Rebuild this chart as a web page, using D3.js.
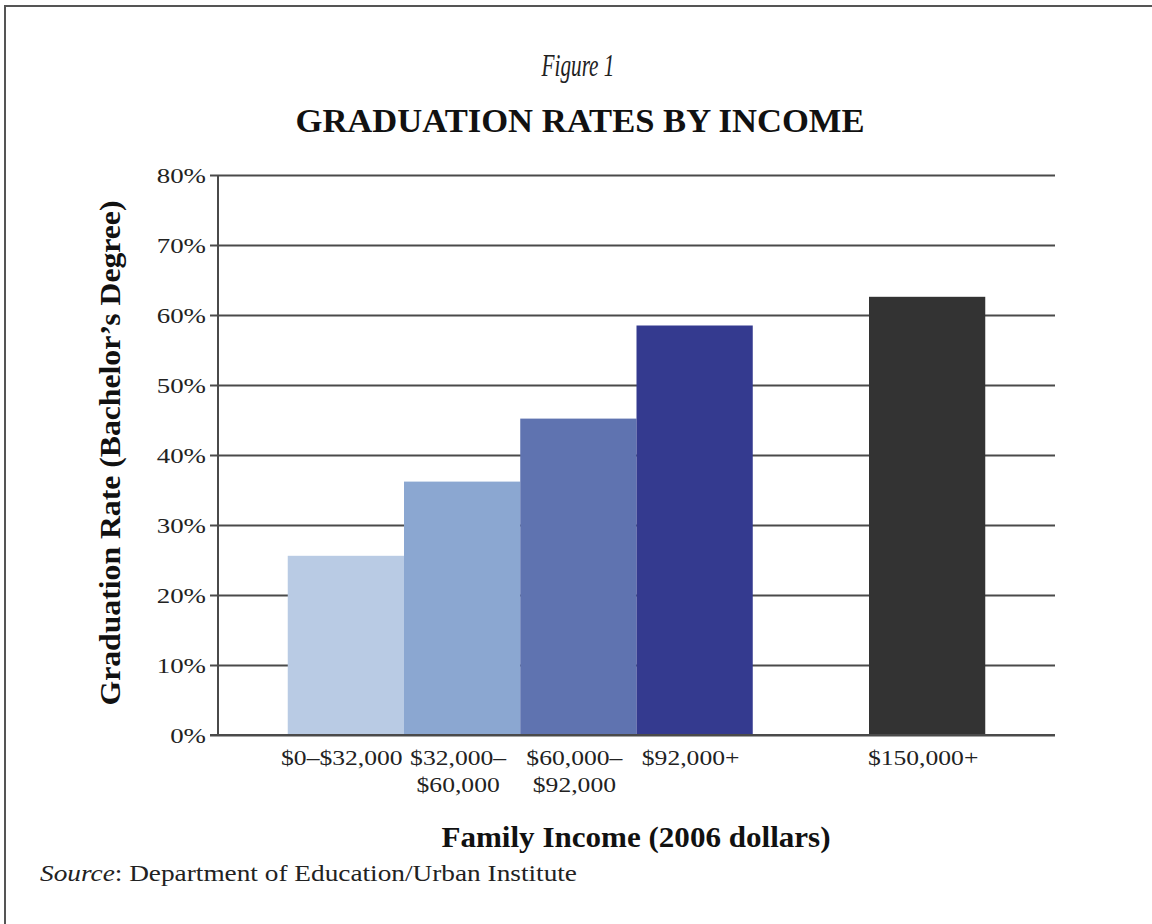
<!DOCTYPE html>
<html>
<head>
<meta charset="utf-8">
<script src="https://cdn.jsdelivr.net/npm/d3@7"></script>
<style>
  html, body { margin: 0; padding: 0; background: #fff; }
  svg { display: block; font-family: "Liberation Serif", "Times New Roman", serif; }
</style>
</head>
<body>
<div id="chart"></div>
<script>
// data
const categories = ['$0–$32,000', '$32,000–\n$60,000', '$60,000–\n$92,000', '$92,000+', 'gap', '$150,000+'];
const values = [0.256, 0.362, 0.452, 0.585, null, 0.626];
const colors = ['#b9cbe4', '#8ba7d1', '#5f73b0', '#343a8f', 'none', '#333333'];
const yTicks = [0, 0.1, 0.2, 0.3, 0.4, 0.5, 0.6, 0.7, 0.8];

const width = 1152;
const height = 924;
const stretch = 1.28; // the source picture is widened, so glyphs are too
const serif = '"Liberation Serif", "Times New Roman", serif';

const svg = d3.select('#chart').append('svg').attr('width', width).attr('height', height);

// frame
svg.append('path')
  .attr('d', 'M5,' + height + ' V6 H' + width)
  .attr('fill', 'none')
  .attr('stroke', '#555')
  .attr('stroke-width', 2);

const x = d3.scaleBand().domain(categories).range([218, 1055]).paddingInner(0).paddingOuter(0.6);
const y = d3.scaleLinear().domain([0, 0.8]).range([735, 175]);

// gridlines + y axis
const yAxis = svg.append('g')
  .attr('transform', 'translate(218,0)')
  .call(d3.axisLeft(y).tickValues(yTicks).tickSize(8).tickFormat(d3.format('.0%')));
yAxis.attr('font-family', serif);
yAxis.select('.domain').remove();
yAxis.selectAll('.tick line').attr('stroke', '#4a4a4a').attr('stroke-width', 2).attr('x2', 1055 - 218).attr('x1', -8);
yAxis.selectAll('.tick text')
  .attr('x', null)
  .attr('dy', '0.34em')
  .attr('transform', 'translate(-12,0) scale(' + stretch + ',1)')
  .style('font-size', '21px')
  .style('fill', '#222');

// bars
svg.selectAll('rect.bar')
  .data(categories.map((c, i) => ({ c: c, v: values[i], color: colors[i] })).filter(d => d.v !== null))
  .join('rect')
  .attr('class', 'bar')
  .attr('x', d => x(d.c))
  .attr('width', x.bandwidth())
  .attr('y', d => y(d.v))
  .attr('height', d => y(0) - y(d.v))
  .attr('fill', d => d.color);

// y axis line and baseline on top of bars
svg.append('line').attr('x1', 218).attr('x2', 218).attr('y1', y(0.8)).attr('y2', y(0))
  .attr('stroke', '#4a4a4a').attr('stroke-width', 2);
svg.append('line').attr('x1', 210).attr('x2', 1055).attr('y1', y(0)).attr('y2', y(0))
  .attr('stroke', '#4a4a4a').attr('stroke-width', 2);

// x axis labels, split on \n into lines
const xAxis = svg.append('g')
  .attr('transform', 'translate(0,' + y(0) + ')')
  .call(d3.axisBottom(x).tickSize(0).tickFormat(d => d === 'gap' ? '' : d));
xAxis.attr('font-family', serif);
xAxis.select('.domain').remove();
xAxis.selectAll('.tick text').each(function (d) {
  const t = d3.select(this);
  const lines = d === 'gap' ? [] : d.split('\n');
  t.text(null)
    .attr('y', 0)
    .attr('dy', null)
    .attr('transform', 'translate(-4,0) scale(1.22,1)')
    .style('font-size', '21px')
    .style('fill', '#222');
  lines.forEach((l, i) => {
    t.append('tspan').attr('x', 0).attr('y', 30 + i * 27).text(l);
  });
});

// titles
svg.append('text')
  .attr('x', 578).attr('y', 76)
  .attr('text-anchor', 'middle')
  .attr('textLength', 73).attr('lengthAdjust', 'spacingAndGlyphs')
  .style('font-size', '31px').style('font-style', 'italic').style('fill', '#222')
  .text('Figure 1');

svg.append('text')
  .attr('x', 580).attr('y', 132)
  .attr('text-anchor', 'middle')
  .attr('textLength', 569).attr('lengthAdjust', 'spacingAndGlyphs')
  .style('font-size', '33px').style('font-weight', 'bold').style('fill', '#111')
  .text('GRADUATION RATES BY INCOME');

svg.append('text')
  .attr('transform', 'translate(120,453) rotate(-90)')
  .attr('text-anchor', 'middle')
  .attr('textLength', 505).attr('lengthAdjust', 'spacingAndGlyphs')
  .style('font-size', '29px').style('font-weight', 'bold').style('fill', '#111')
  .text('Graduation Rate (Bachelor’s Degree)');

svg.append('text')
  .attr('x', 636).attr('y', 847)
  .attr('text-anchor', 'middle')
  .attr('textLength', 389).attr('lengthAdjust', 'spacingAndGlyphs')
  .style('font-size', '29px').style('font-weight', 'bold').style('fill', '#111')
  .text('Family Income (2006 dollars)');

const source = svg.append('text')
  .attr('x', 40).attr('y', 881)
  .attr('textLength', 537).attr('lengthAdjust', 'spacingAndGlyphs')
  .style('font-size', '23px').style('fill', '#222');
source.append('tspan').style('font-style', 'italic').text('Source');
source.append('tspan').text(': Department of Education/Urban Institute');
</script>
</body>
</html>
